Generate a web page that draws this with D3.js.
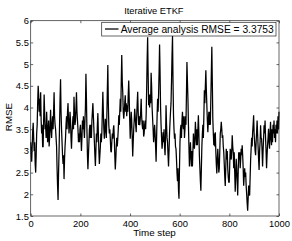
<!DOCTYPE html>
<html><head><meta charset="utf-8">
<script src="https://cdn.jsdelivr.net/npm/d3@7"></script>
<style>body{margin:0;background:#fff}svg{display:block}text{font-family:"Liberation Sans",Arial,sans-serif;fill:#000}</style>
</head><body>
<script>
const title = "Iterative ETKF";
const xLabel = "Time step";
const yLabel = "RMSE";
const legendLabel = "Average analysis RMSE = 3.3753";
const xTicks = [0, 200, 400, 600, 800, 1000];
const yTicks = [1.5, 2, 2.5, 3, 3.5, 4, 4.5, 5, 5.5, 6];
const timeMax = 1000;
// RMSE every 2 time steps (0..1000)
const rmse = [
3.2,2.9,2.75,3.1,3.45,3.65,3.3,3.0,3.2,2.7,2.5,2.9,3.4,3.6,4.1,4.5,4.3,3.9,4.2,3.8,4.35,3.7,3.4,3.6,3.1,
3.1,3.7,4.3,3.9,3.5,3.6,3.3,3.9,3.6,3.2,3.4,3.7,3.1,3.3,3.6,3.95,3.5,3.3,3.6,3.8,3.5,3.9,4.35,3.8,3.6,
3.5,3.3,3.1,2.6,2.2,1.87,2.5,3.0,3.6,4.2,4.65,3.9,3.5,3.2,2.9,2.7,2.9,2.35,2.8,3.1,3.3,3.6,3.8,3.5,3.9,
4.1,3.7,3.4,3.6,3.9,3.7,3.3,3.05,3.4,3.6,3.8,3.5,4.25,3.9,3.6,3.7,4.0,4.35,3.9,3.7,3.5,3.2,3.4,3.2,3.5,
3.6,3.3,3.0,3.3,3.7,3.5,3.8,3.5,3.3,3.7,4.0,4.78,4.2,3.5,2.9,2.58,2.9,3.2,3.5,3.6,3.3,3.6,3.3,3.7,3.9,
4.1,3.8,3.5,3.2,2.9,2.65,3.0,3.4,3.2,3.6,3.87,3.4,3.0,2.7,2.9,3.1,3.4,3.2,3.43,3.9,4.36,3.9,3.5,3.28,3.5,
3.74,3.5,3.3,3.8,4.4,4.98,4.1,3.6,3.4,3.5,3.28,3.0,2.97,3.2,3.4,3.28,3.5,3.59,3.3,2.9,2.57,2.8,3.1,3.3,3.1,
3.28,3.5,3.82,3.6,3.9,4.2,3.9,4.6,5.21,4.6,4.35,3.9,3.74,3.9,4.1,4.28,3.9,4.1,3.8,4.05,3.9,4.3,4.62,4.2,3.7,
3.28,3.6,3.9,3.7,3.3,2.87,3.2,3.5,3.7,3.97,3.8,3.6,3.43,3.8,4.1,4.36,3.9,3.6,3.8,3.59,3.7,3.9,4.2,3.8,3.6,
3.5,3.7,3.33,3.4,3.6,3.7,3.5,3.82,4.4,5.1,5.62,4.8,4.05,4.3,4.0,4.3,4.1,4.8,4.5,4.0,3.74,3.5,3.2,3.4,3.6,
3.4,3.1,2.75,3.3,3.8,4.2,3.9,4.3,4.8,5.45,4.8,4.0,3.6,3.3,3.05,3.2,3.43,3.2,3.5,3.1,2.9,3.3,4.05,3.6,3.3,
3.2,2.9,2.64,3.0,3.4,3.67,3.9,4.1,4.6,5.2,5.65,4.6,3.82,3.5,3.28,3.4,3.1,3.05,2.8,2.5,2.3,2.6,2.1,1.9,2.6,
3.2,3.5,3.6,3.3,3.7,3.9,3.6,3.5,3.8,3.3,3.5,3.8,3.6,4.3,5.05,4.6,4.2,3.6,3.1,2.64,2.9,3.2,2.9,2.64,3.0,
2.64,3.0,3.4,3.2,3.05,3.3,3.67,3.4,3.13,3.5,3.13,3.5,3.82,3.4,2.9,2.6,2.3,2.08,2.6,3.1,3.4,3.6,3.3,3.8,4.4,
4.1,4.5,4.86,4.4,4.05,3.7,3.43,3.7,3.9,3.6,3.9,3.6,4.2,4.8,5.4,4.6,3.74,3.4,3.13,3.4,3.1,3.43,3.0,2.7,2.48,
2.8,3.05,2.8,2.5,2.6,3.0,3.4,3.5,3.67,3.5,3.3,3.36,3.1,2.97,2.7,2.4,2.19,2.6,3.05,2.8,3.0,2.6,2.4,2.28,
2.28,2.7,3.05,2.9,2.8,3.0,3.36,3.1,2.97,2.6,2.97,2.5,2.06,2.4,2.82,2.6,2.3,1.97,2.5,2.97,2.8,2.97,2.6,2.8,3.05,
2.9,3.13,2.9,2.6,2.2,2.4,2.6,2.4,2.5,2.2,2.0,1.8,1.62,1.9,2.2,2.0,1.97,2.4,2.8,3.05,3.3,3.1,3.43,3.6,3.82,
3.4,3.2,3.0,2.9,3.2,3.43,3.7,3.4,3.1,2.8,2.56,3.0,3.2,3.59,3.3,3.28,3.0,2.64,3.0,3.28,3.59,3.4,3.7,3.3,3.0,
2.6,2.9,3.13,3.3,3.51,3.2,3.05,3.4,3.67,3.3,3.13,3.5,3.2,3.6,3.4,3.7,3.3,3.5,3.2,3.6,3.4,3.7,3.4,3.8,3.5,3.9
];

const W = 292, H = 241;
const m = {left: 30.7, right: 279, top: 20.7, bottom: 216};
const svg = d3.select("body").append("svg").attr("width", W).attr("height", H);
const x = d3.scaleLinear().domain([0, timeMax]).range([m.left, m.right]);
const y = d3.scaleLinear().domain([1.5, 6]).range([m.bottom, m.top]);
const stepOf = i => i * timeMax / (rmse.length - 1);
const tl = 2.5;
const axCol = "#262626";
const ff = '"Liberation Sans",Arial,sans-serif';

const line = d3.line().x((d, i) => x(stepOf(i))).y(d => y(d));
svg.append("path").datum(rmse).attr("d", line).attr("fill", "none")
  .attr("stroke", "#000").attr("stroke-width", 1.25).attr("stroke-linejoin", "miter");

// box
svg.append("rect").attr("x", m.left).attr("y", m.top).attr("width", m.right - m.left)
  .attr("height", m.bottom - m.top).attr("fill", "none").attr("stroke", axCol).attr("stroke-width", 0.7);

const fs = 9.4;
const xb = svg.append("g").attr("transform", `translate(0,${m.bottom})`)
  .call(d3.axisBottom(x).tickValues(xTicks).tickSize(-tl).tickPadding(4.5).tickFormat(d3.format("d")));
const xt = svg.append("g").attr("transform", `translate(0,${m.top})`)
  .call(d3.axisTop(x).tickValues(xTicks).tickSize(-tl).tickFormat(""));
const yl = svg.append("g").attr("transform", `translate(${m.left},0)`)
  .call(d3.axisLeft(y).tickValues(yTicks).tickSize(-tl).tickPadding(1.8).tickFormat(d => String(d)));
const yr = svg.append("g").attr("transform", `translate(${m.right},0)`)
  .call(d3.axisRight(y).tickValues(yTicks).tickSize(-tl).tickFormat(""));
[xb, xt, yl, yr].forEach(g => {
  g.select(".domain").remove();
  g.selectAll("line").attr("stroke", axCol).attr("stroke-width", 0.7);
  g.selectAll("text").attr("font-size", fs).attr("fill", "#000").style("font-family", ff);
});

svg.append("text").attr("x", (m.left + m.right) / 2 - 1).attr("y", 14.3).attr("text-anchor", "middle")
  .attr("font-size", 9.3).text(title);
svg.append("text").attr("x", 154.5).attr("y", 236.3).attr("text-anchor", "middle")
  .attr("font-size", 9.8).text(xLabel);
svg.append("text").attr("transform", `translate(11.5,117) rotate(-90)`)
  .attr("text-anchor", "middle").attr("font-size", 9.8).text(yLabel);

// legend
const lg = svg.append("g");
lg.append("rect").attr("x", 101.7).attr("y", 22.3).attr("width", 174.3).attr("height", 13.7)
  .attr("fill", "#fff").attr("stroke", axCol).attr("stroke-width", 0.7);
lg.append("line").attr("x1", 105).attr("x2", 118.5).attr("y1", 29).attr("y2", 29)
  .attr("stroke", "#000").attr("stroke-width", 1.25);
lg.append("text").attr("x", 120.7).attr("y", 32.6).attr("font-size", 10)
  .attr("textLength", 153).attr("lengthAdjust", "spacingAndGlyphs").text(legendLabel);
</script>
</body></html>
